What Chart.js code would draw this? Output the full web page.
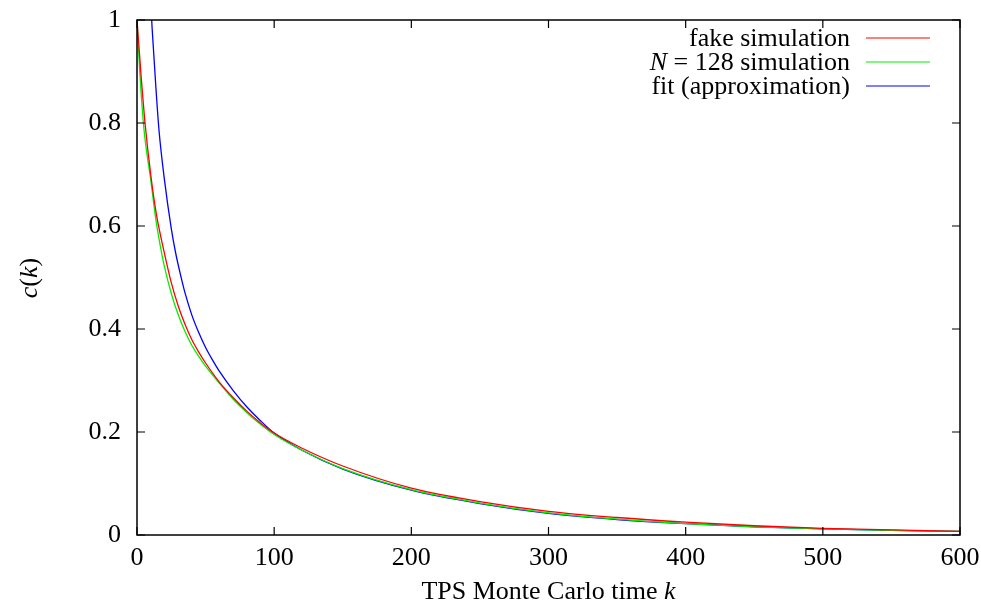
<!DOCTYPE html>
<html>
<head>
<meta charset="utf-8">
<script src="https://cdn.jsdelivr.net/npm/chart.js@4/dist/chart.umd.min.js"></script>
<style>
html,body{margin:0;padding:0;background:#fff;}
#wrap{width:981px;height:604px;}
</style>
</head>
<body>
<div id="wrap"><canvas id="c" width="981" height="604"></canvas></div>
<script>
// ---- data ----
const fakeK   = [0, 3, 6, 10, 14, 18, 20, 25, 30, 35, 40, 45, 50, 60, 70, 80, 90, 100, 120, 150, 200, 250, 300, 350, 400, 450, 500, 550, 600];
const fakeC   = [1.0, 0.891, 0.796, 0.70, 0.625, 0.571, 0.547, 0.49, 0.445, 0.409, 0.379, 0.355, 0.334, 0.297, 0.267, 0.2405, 0.2177, 0.198, 0.169, 0.134, 0.091, 0.065, 0.046, 0.034, 0.025, 0.018, 0.013, 0.010, 0.007];
const simK    = [0, 2, 5, 10, 14, 18, 20, 25, 30, 35, 40, 45, 50, 60, 70, 80, 90, 100, 120, 150, 200, 250, 300, 350, 400, 450, 500, 550, 600];
const simC    = [1.0, 0.90, 0.79, 0.69, 0.608, 0.547, 0.521, 0.469, 0.428, 0.395, 0.368, 0.347, 0.328, 0.295, 0.264, 0.238, 0.215, 0.195, 0.165, 0.129, 0.088, 0.062, 0.043, 0.031, 0.022, 0.016, 0.012, 0.009, 0.007];
const fitK    = [6, 8, 11, 14, 16, 20, 25, 28, 32, 35, 40, 45, 50, 55, 60, 70, 80, 90, 100, 120, 150, 200, 250, 300, 350, 400, 450, 500, 550, 600];
const fitC    = [1.28, 1.145, 0.985, 0.86, 0.787, 0.69, 0.595, 0.55, 0.502, 0.47, 0.427, 0.393, 0.364, 0.34, 0.318, 0.281, 0.249, 0.222, 0.198, 0.165, 0.128, 0.087, 0.061, 0.042, 0.030, 0.022, 0.016, 0.012, 0.009, 0.007];
const seriesNames = ["fake simulation", "N = 128 simulation", "fit (approximation)"];
const xTicks = [0, 100, 200, 300, 400, 500, 600];
const yTicks = [0, 0.2, 0.4, 0.6, 0.8, 1];

const FONT = '"Liberation Serif", serif';
const FS = 26;

function pts(xs, ys){ return xs.map((x,i)=>({x:x, y:ys[i]})); }

function segText(ctx, segs, x, y, align){
  let w = 0;
  const widths = segs.map(s=>{ ctx.font = (s[1]?'italic ':'') + FS + 'px ' + FONT; const m = ctx.measureText(s[0]).width; w += m; return m; });
  let cx = align==='right' ? x - w : (align==='center' ? x - w/2 : x);
  ctx.textAlign = 'left';
  segs.forEach((s,i)=>{ ctx.font = (s[1]?'italic ':'') + FS + 'px ' + FONT; ctx.fillText(s[0], cx, y); cx += widths[i]; });
}

const framePlugin = {
  id: 'frame',
  afterDraw(chart){
    const ctx = chart.ctx, a = chart.chartArea;
    const xs = chart.scales.x, ys = chart.scales.y;
    ctx.save();
    ctx.strokeStyle = '#000'; ctx.lineWidth = 1.5;
    ctx.strokeRect(a.left, a.top, a.right-a.left, a.bottom-a.top);
    ctx.lineWidth = 1.2;
    const L = 8;
    ctx.beginPath();
    xTicks.forEach(v=>{ const p = xs.getPixelForValue(v);
      ctx.moveTo(p, a.bottom); ctx.lineTo(p, a.bottom-L);
      ctx.moveTo(p, a.top); ctx.lineTo(p, a.top+L); });
    yTicks.forEach(v=>{ const p = ys.getPixelForValue(v);
      ctx.moveTo(a.left, p); ctx.lineTo(a.left+L, p);
      ctx.moveTo(a.right, p); ctx.lineTo(a.right-L, p); });
    ctx.stroke();

    // legend
    ctx.textBaseline = 'middle';
    const labelSegs = [
      [[seriesNames[0], false]],
      [["N", true], [seriesNames[1].slice(1), false]],
      [[seriesNames[2], false]]
    ];
    const rowY = [38, 62, 86];
    chart.data.datasets.forEach((ds,i)=>{
      ctx.fillStyle = '#000';
      segText(ctx, labelSegs[i], 850, rowY[i]+1, 'right');
      ctx.strokeStyle = ds.borderColor; ctx.lineWidth = 1.2;
      ctx.beginPath(); ctx.moveTo(866, rowY[i]); ctx.lineTo(930, rowY[i]); ctx.stroke();
    });

    // axis titles
    ctx.fillStyle = '#000'; ctx.textBaseline = 'middle';
    segText(ctx, [["TPS Monte Carlo time ", false], ["k", true]], (a.left+a.right)/2, 592, 'center');
    ctx.translate(30, 278); ctx.rotate(-Math.PI/2);
    segText(ctx, [["c", true], ["(", false], ["k", true], [")", false]], 0, 0, 'center');
    ctx.restore();
  }
};

const colors = ['#ff0000', '#00f000', '#0000ff'];
new Chart(document.getElementById('c'), {
  type: 'line',
  data: {
    datasets: [
      {label: seriesNames[0], data: pts(fakeK, fakeC), borderColor: colors[0]},
      {label: seriesNames[1], data: pts(simK, simC), borderColor: colors[1]},
      {label: seriesNames[2], data: pts(fitK, fitC), borderColor: colors[2]}
    ].map(d=>Object.assign(d, {borderWidth: 1.3, pointRadius: 0, fill: false, cubicInterpolationMode: 'monotone', clip: 0}))
  },
  options: {
    responsive: false, animation: false,
    layout: {padding: {left: 0, top: 20, right: 21, bottom: 0}},
    plugins: {legend: {display: false}, tooltip: {enabled: false}},
    scales: {
      x: {type: 'linear', min: 0, max: 600,
          afterBuildTicks: s=>{ s.ticks = xTicks.map(v=>({value:v})); },
          afterFit: s=>{ s.height = 69; s.paddingLeft = 0; s.paddingRight = 0; },
          grid: {display: false, drawTicks: false}, border: {display: false},
          ticks: {font: {family: FONT, size: FS}, color: '#000', padding: 8, maxRotation: 0,
                  callback: v=>String(v)}},
      y: {min: 0, max: 1,
          afterBuildTicks: s=>{ s.ticks = yTicks.map(v=>({value:v})); },
          afterFit: s=>{ s.width = 137; s.paddingTop = 0; s.paddingBottom = 0; },
          grid: {display: false, drawTicks: false}, border: {display: false},
          ticks: {font: {family: FONT, size: FS}, color: '#000', padding: 16,
                  callback: v=>String(Math.round(v*10)/10)}}
    }
  },
  plugins: [framePlugin]
});
</script>
</body>
</html>
